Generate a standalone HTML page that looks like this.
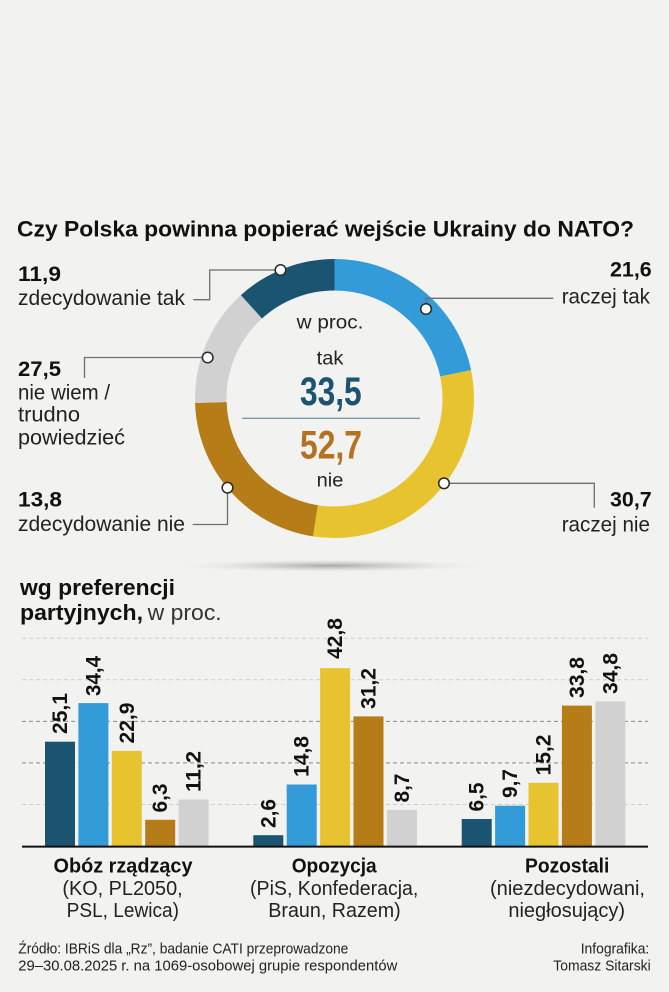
<!DOCTYPE html>
<html>
<head>
<meta charset="utf-8">
<style>
  html,body{margin:0;padding:0;background:#f2f2f0;}
  svg{display:block;}
  text{font-family:"Liberation Sans","DejaVu Sans",sans-serif;}
  .b{font-weight:bold;fill:#111;}
  .r{font-weight:normal;fill:#222;}
</style>
</head>
<body>
<svg width="669" height="992" viewBox="0 0 669 992" xmlns="http://www.w3.org/2000/svg">
  <defs>
    <radialGradient id="sh" cx="50%" cy="50%" r="50%">
      <stop offset="0%" stop-color="#9a9a9a" stop-opacity="0.85"/>
      <stop offset="45%" stop-color="#bdbdbd" stop-opacity="0.5"/>
      <stop offset="100%" stop-color="#f2f2f0" stop-opacity="0"/>
    </radialGradient>
  </defs>
  <rect x="0" y="0" width="669" height="992" fill="#f2f2f0"/>

  <!-- Title -->
  <text class="b" x="17" y="236.7" font-size="22" textLength="617" lengthAdjust="spacingAndGlyphs">Czy Polska powinna popierać wejście Ukrainy do NATO?</text>

  <!-- Donut -->
  <g transform="rotate(-90 334.5 398.5)" fill="none" stroke-width="31.5">
    <circle cx="334.5" cy="398.5" r="123.75" stroke="#339bd7" stroke-dasharray="168.9 777.55" stroke-dashoffset="0"/>
    <circle cx="334.5" cy="398.5" r="123.75" stroke="#e6c32f" stroke-dasharray="238.9 777.55" stroke-dashoffset="-168.9"/>
    <circle cx="334.5" cy="398.5" r="123.75" stroke="#b67c18" stroke-dasharray="171.1 777.55" stroke-dashoffset="-407.8"/>
    <circle cx="334.5" cy="398.5" r="123.75" stroke="#d1d1d1" stroke-dasharray="107.3 777.55" stroke-dashoffset="-578.9"/>
    <circle cx="334.5" cy="398.5" r="123.75" stroke="#1b5470" stroke-dasharray="91.5 777.55" stroke-dashoffset="-686.2"/>
  </g>

  <!-- shadow under donut -->
  <ellipse cx="330" cy="565.7" rx="162" ry="7" fill="url(#sh)"/>

  <!-- Leader lines -->
  <g fill="none" stroke="#6e6e6e" stroke-width="1.3">
    <polyline points="280,270 209.7,270 209.7,299.7 193.3,299.7"/>
    <polyline points="426,309 426,298.3 553.3,298.3"/>
    <polyline points="207.7,357.5 84.5,357.5 84.5,378"/>
    <polyline points="227.5,487.7 227.5,524.5 192.7,524.5"/>
    <polyline points="444,483.3 594.3,483.3 594.3,507.7"/>
  </g>
  <g fill="#fff" stroke="#2a2a2a" stroke-width="1.5">
    <circle cx="280.5" cy="270" r="5.3"/>
    <circle cx="426" cy="309" r="5.3"/>
    <circle cx="207.7" cy="357.5" r="5.3"/>
    <circle cx="227.5" cy="487.7" r="5.3"/>
    <circle cx="444" cy="483.3" r="5.3"/>
  </g>

  <!-- Center text -->
  <text class="r" x="330" y="328.3" font-size="19" text-anchor="middle" textLength="66.7" lengthAdjust="spacingAndGlyphs">w proc.</text>
  <text class="r" x="330" y="364.3" font-size="19" text-anchor="middle" textLength="26.7" lengthAdjust="spacingAndGlyphs">tak</text>
  <text x="330.8" y="405" font-size="40" font-weight="bold" fill="#1b5470" text-anchor="middle" textLength="61.7" lengthAdjust="spacingAndGlyphs">33,5</text>
  <line x1="242.3" y1="418.3" x2="420" y2="418.3" stroke="#4b7b9a" stroke-width="1"/>
  <text x="331" y="458.3" font-size="40" font-weight="bold" fill="#b5711d" text-anchor="middle" textLength="62" lengthAdjust="spacingAndGlyphs">52,7</text>
  <text class="r" x="330" y="486.7" font-size="19" text-anchor="middle" textLength="26.7" lengthAdjust="spacingAndGlyphs">nie</text>

  <!-- Left labels -->
  <text class="b" x="18" y="281" font-size="21" textLength="43" lengthAdjust="spacingAndGlyphs">11,9</text>
  <text class="r" x="18" y="305" font-size="21" textLength="167" lengthAdjust="spacingAndGlyphs">zdecydowanie tak</text>

  <text class="b" x="18" y="376" font-size="21" textLength="43" lengthAdjust="spacingAndGlyphs">27,5</text>
  <text class="r" x="18" y="399.3" font-size="21" textLength="92" lengthAdjust="spacingAndGlyphs">nie wiem /</text>
  <text class="r" x="18" y="421.7" font-size="21" textLength="62" lengthAdjust="spacingAndGlyphs">trudno</text>
  <text class="r" x="18" y="444.3" font-size="21" textLength="107" lengthAdjust="spacingAndGlyphs">powiedzieć</text>

  <text class="b" x="18" y="506.7" font-size="21" textLength="44" lengthAdjust="spacingAndGlyphs">13,8</text>
  <text class="r" x="18" y="531" font-size="21" textLength="167" lengthAdjust="spacingAndGlyphs">zdecydowanie nie</text>

  <!-- Right labels -->
  <text class="b" x="651.7" y="276.7" font-size="21" text-anchor="end" textLength="41.7" lengthAdjust="spacingAndGlyphs">21,6</text>
  <text class="r" x="650" y="303.3" font-size="21" text-anchor="end" textLength="88.3" lengthAdjust="spacingAndGlyphs">raczej tak</text>
  <text class="b" x="651.7" y="506.7" font-size="21" text-anchor="end" textLength="41.7" lengthAdjust="spacingAndGlyphs">30,7</text>
  <text class="r" x="650" y="531.7" font-size="21" text-anchor="end" textLength="88.3" lengthAdjust="spacingAndGlyphs">raczej nie</text>

  <!-- Bar chart title -->
  <text class="b" x="20" y="595" font-size="22" textLength="155" lengthAdjust="spacingAndGlyphs">wg preferencji</text>
  <text class="b" x="20" y="620" font-size="22" textLength="123" lengthAdjust="spacingAndGlyphs">partyjnych,</text>
  <text x="147.7" y="620" font-size="22" fill="#333" textLength="74" lengthAdjust="spacingAndGlyphs">w proc.</text>

  <!-- Gridlines -->
  <g fill="none" stroke-width="1" stroke-dasharray="4 3">
    <line x1="22" y1="638.3" x2="648" y2="638.3" stroke="#cdcdcd"/>
    <line x1="22" y1="679.8" x2="648" y2="679.8" stroke="#cdcdcd"/>
    <line x1="22" y1="721.4" x2="648" y2="721.4" stroke="#8a8a8a"/>
    <line x1="22" y1="762.9" x2="648" y2="762.9" stroke="#8a8a8a"/>
    <line x1="22" y1="804.5" x2="648" y2="804.5" stroke="#cdcdcd"/>
  </g>

  <!-- Bars group 1 -->
  <g>
    <rect x="45" y="741.7" width="30" height="104.3" fill="#1b5470"/>
    <rect x="78.4" y="703.1" width="30" height="142.9" fill="#339bd7"/>
    <rect x="111.8" y="750.9" width="30" height="95.1" fill="#e6c32f"/>
    <rect x="145.2" y="819.8" width="30" height="26.2" fill="#b67c18"/>
    <rect x="178.6" y="799.5" width="30" height="46.5" fill="#d1d1d1"/>
  </g>
  <!-- Bars group 2 -->
  <g>
    <rect x="253.3" y="835.2" width="30" height="10.8" fill="#1b5470"/>
    <rect x="286.7" y="784.5" width="30" height="61.5" fill="#339bd7"/>
    <rect x="320.1" y="668.2" width="30" height="177.8" fill="#e6c32f"/>
    <rect x="353.5" y="716.4" width="30" height="129.6" fill="#b67c18"/>
    <rect x="386.9" y="809.9" width="30" height="36.1" fill="#d1d1d1"/>
  </g>
  <!-- Bars group 3 -->
  <g>
    <rect x="461.7" y="819" width="30" height="27" fill="#1b5470"/>
    <rect x="495.1" y="805.7" width="30" height="40.3" fill="#339bd7"/>
    <rect x="528.5" y="782.8" width="30" height="63.2" fill="#e6c32f"/>
    <rect x="561.9" y="705.6" width="30" height="140.4" fill="#b67c18"/>
    <rect x="595.3" y="701.4" width="30" height="144.6" fill="#d1d1d1"/>
  </g>

  <!-- Baseline -->
  <line x1="22" y1="846.6" x2="648" y2="846.6" stroke="#111" stroke-width="2"/>

  <!-- Bar value labels (rotated) -->
  <g class="b" font-size="21" font-weight="bold" fill="#111">
    <text transform="translate(67,734) rotate(-90)" textLength="41" lengthAdjust="spacingAndGlyphs">25,1</text>
    <text transform="translate(100.4,696) rotate(-90)" textLength="40" lengthAdjust="spacingAndGlyphs">34,4</text>
    <text transform="translate(133.8,743.5) rotate(-90)" textLength="41" lengthAdjust="spacingAndGlyphs">22,9</text>
    <text transform="translate(167.2,812.5) rotate(-90)" textLength="29" lengthAdjust="spacingAndGlyphs">6,3</text>
    <text transform="translate(200.6,792) rotate(-90)" textLength="41" lengthAdjust="spacingAndGlyphs">11,2</text>

    <text transform="translate(275.3,828) rotate(-90)" textLength="29" lengthAdjust="spacingAndGlyphs">2,6</text>
    <text transform="translate(308.7,777) rotate(-90)" textLength="41" lengthAdjust="spacingAndGlyphs">14,8</text>
    <text transform="translate(342.1,659) rotate(-90)" textLength="41" lengthAdjust="spacingAndGlyphs">42,8</text>
    <text transform="translate(375.5,709) rotate(-90)" textLength="41" lengthAdjust="spacingAndGlyphs">31,2</text>
    <text transform="translate(408.9,802.5) rotate(-90)" textLength="29" lengthAdjust="spacingAndGlyphs">8,7</text>

    <text transform="translate(483.7,811.5) rotate(-90)" textLength="29" lengthAdjust="spacingAndGlyphs">6,5</text>
    <text transform="translate(517.1,798) rotate(-90)" textLength="29" lengthAdjust="spacingAndGlyphs">9,7</text>
    <text transform="translate(550.5,775.5) rotate(-90)" textLength="41" lengthAdjust="spacingAndGlyphs">15,2</text>
    <text transform="translate(583.9,698) rotate(-90)" textLength="41" lengthAdjust="spacingAndGlyphs">33,8</text>
    <text transform="translate(617.3,694) rotate(-90)" textLength="41" lengthAdjust="spacingAndGlyphs">34,8</text>
  </g>

  <!-- Category labels -->
  <text class="b" x="123" y="872.3" font-size="20" text-anchor="middle" textLength="139" lengthAdjust="spacingAndGlyphs">Obóz rządzący</text>
  <text class="r" x="122.5" y="895" font-size="20" text-anchor="middle" fill="#333" textLength="120.3" lengthAdjust="spacingAndGlyphs">(KO, PL2050,</text>
  <text class="r" x="122.8" y="917" font-size="20" text-anchor="middle" fill="#333" textLength="112.3" lengthAdjust="spacingAndGlyphs">PSL, Lewica)</text>

  <text class="b" x="334.2" y="872.3" font-size="20" text-anchor="middle" textLength="85" lengthAdjust="spacingAndGlyphs">Opozycja</text>
  <text class="r" x="334.2" y="895" font-size="20" text-anchor="middle" fill="#333" textLength="168.3" lengthAdjust="spacingAndGlyphs">(PiS, Konfederacja,</text>
  <text class="r" x="334.5" y="917" font-size="20" text-anchor="middle" fill="#333" textLength="132.4" lengthAdjust="spacingAndGlyphs">Braun, Razem)</text>

  <text class="b" x="567.2" y="872.3" font-size="20" text-anchor="middle" textLength="84.3" lengthAdjust="spacingAndGlyphs">Pozostali</text>
  <text class="r" x="567.5" y="895" font-size="20" text-anchor="middle" fill="#333" textLength="155" lengthAdjust="spacingAndGlyphs">(niezdecydowani,</text>
  <text class="r" x="566.7" y="917" font-size="20" text-anchor="middle" fill="#333" textLength="116.7" lengthAdjust="spacingAndGlyphs">niegłosujący)</text>

  <!-- Footer -->
  <text class="r" x="18.3" y="953.3" font-size="15" fill="#222" textLength="330" lengthAdjust="spacingAndGlyphs">Źródło: IBRiS dla „Rz”, badanie CATI przeprowadzone</text>
  <text class="r" x="18.3" y="970.7" font-size="15" fill="#222" textLength="379" lengthAdjust="spacingAndGlyphs">29–30.08.2025 r. na 1069-osobowej grupie respondentów</text>
  <text class="r" x="649.3" y="953.3" font-size="15" fill="#222" text-anchor="end" textLength="68.6" lengthAdjust="spacingAndGlyphs">Infografika:</text>
  <text class="r" x="650.7" y="970.7" font-size="15" fill="#222" text-anchor="end" textLength="97.4" lengthAdjust="spacingAndGlyphs">Tomasz Sitarski</text>
</svg>
</body>
</html>
